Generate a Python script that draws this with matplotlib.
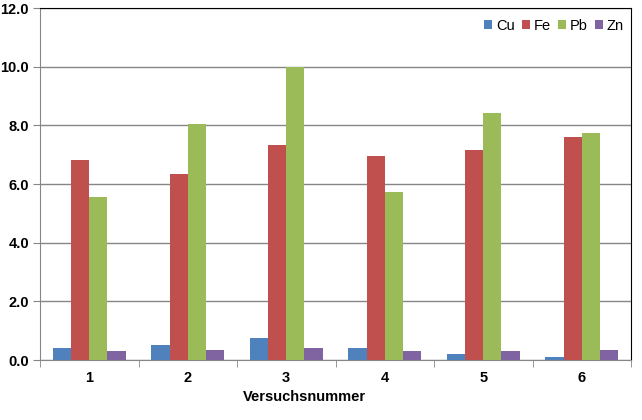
import matplotlib
matplotlib.use("Agg")
import matplotlib.pyplot as plt
import numpy as np

plt.rcParams['font.family'] = ['Liberation Sans', 'DejaVu Sans']

categories = ["1", "2", "3", "4", "5", "6"]
series_names = ["Cu", "Fe", "Pb", "Zn"]
cu = [0.40, 0.50, 0.75, 0.40, 0.20, 0.10]
fe = [6.82, 6.34, 7.33, 6.95, 7.16, 7.60]
pb = [5.56, 8.05, 10.00, 5.73, 8.42, 7.75]
zn = [0.30, 0.34, 0.41, 0.31, 0.31, 0.34]
colors = ["#4F81BD", "#C0504D", "#9BBB59", "#8064A2"]
yticks = [0, 2, 4, 6, 8, 10, 12]

fig = plt.figure(figsize=(6.42, 4.2), dpi=100)
ax = fig.add_axes([40/642, 60/420, 591/642, 352/420])

x = np.arange(len(categories))
w = 0.185
for i, (vals, name) in enumerate(zip([cu, fe, pb, zn], series_names)):
    ax.bar(x + (i - 1.5) * w, vals, width=w, color=colors[i], label=name, zorder=3)

ax.set_xlim(-0.5, len(categories) - 0.5)
ax.set_ylim(0, 12)
ax.set_yticks(yticks)
ax.set_yticklabels([f"{v:.1f}" for v in yticks], fontsize=10.5, fontweight='bold')
ax.yaxis.grid(True, color="#868686", linewidth=1, zorder=0)
ax.set_xticks(x)
ax.set_xticklabels(categories, fontsize=10.5, fontweight='bold')
ax.tick_params(axis='x', length=0, pad=8)
ax.set_xticks(np.arange(-0.5, len(categories), 1), minor=True)
ax.tick_params(axis='x', which='minor', length=5, color="#868686", direction='out')
ax.tick_params(axis='y', length=5, color="#868686", direction='out', pad=3)
ax.set_xlabel("Versuchsnummer", fontsize=10.5, fontweight='bold', labelpad=6)
ax.xaxis.set_label_coords((304 - 40) / 591, -0.085)

for s in ['left', 'bottom']:
    ax.spines[s].set_color("#868686")
for s in ['top', 'right']:
    ax.spines[s].set_color("black")

leg = ax.legend(loc='upper right', ncol=4, frameon=False, fontsize=10.5,
                handlelength=0.55, handleheight=0.55, handletextpad=0.25,
                columnspacing=0.5, bbox_to_anchor=(1.0, 0.99), borderaxespad=0.1)

fig.savefig("out.png", dpi=100)
